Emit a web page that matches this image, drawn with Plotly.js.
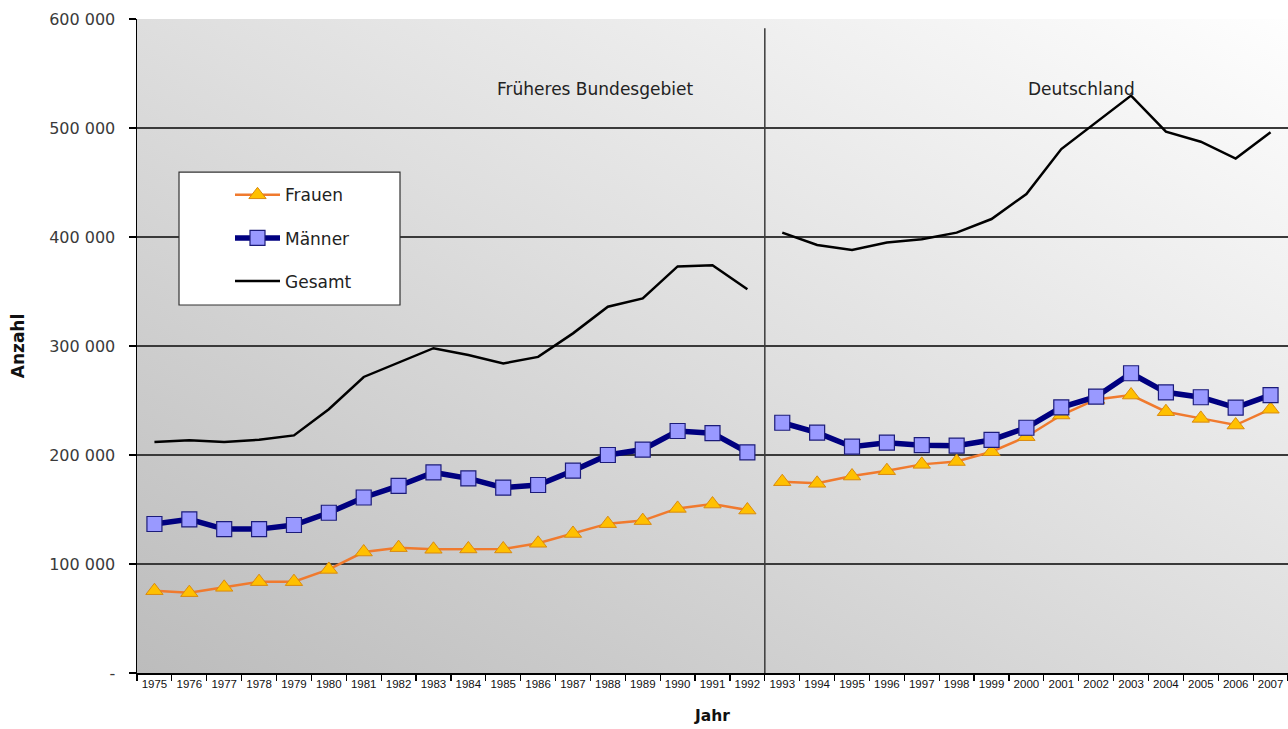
<!DOCTYPE html>
<html>
<head>
<meta charset="utf-8">
<script src="https://cdn.plot.ly/plotly-3.0.1.min.js"></script>
<style>
  html, body { margin: 0; padding: 0; background: #ffffff; }
  #chart { width: 1288px; height: 729px; }
</style>
</head>
<body>
<div id="chart"></div>
<script>
// ---- data ----
const years = ['1975','1976','1977','1978','1979','1980','1981','1982','1983','1984','1985','1986','1987','1988','1989','1990','1991','1992',
               '1993','1994','1995','1996','1997','1998','1999','2000','2001','2002','2003','2004','2005','2006','2007'];
const frauen = [75500, 73700, 78600, 83800, 83800, 95000, 111000, 115000, 113500, 113800, 113800, 119000, 128000, 137000, 139800, 151000, 155000, 149500,
                175500, 174000, 180700, 185600, 191400, 194000, 203000, 216800, 236700, 251000, 255000, 239700, 233600, 227500, 242000];
const maenner = [136700, 141000, 132000, 132000, 135800, 147000, 161000, 171600, 184000, 178600, 170000, 172500, 185600, 200000, 205000, 222000, 220000, 202500,
                 229600, 220500, 207600, 211300, 209000, 208600, 213800, 225000, 243700, 253500, 275000, 257500, 253000, 243400, 255000];
const gesamt = [212000, 213500, 212000, 214000, 218000, 242000, 271600, 285000, 298000, 291700, 284000, 290000, 311600, 336000, 343700, 373000, 374000, 352000,
                404000, 392700, 388000, 395000, 398000, 404000, 416500, 439400, 480700, 504900, 529700, 496600, 487400, 472000, 496000];
const seriesNames = ['Frauen', 'Männer', 'Gesamt'];
const periodLabels = ['Früheres Bundesgebiet', 'Deutschland'];
const splitYear = '1993';   // first year of "Deutschland"
const yTickVals = [0, 100000, 200000, 300000, 400000, 500000, 600000];
const yTickText = ['-', '100 000', '200 000', '300 000', '400 000', '500 000', '600 000'];

// ---- styles ----
const styles = {
  'Frauen': { mode: 'lines+markers',
              line: { color: '#f07a2e', width: 2.5 },
              marker: { symbol: 'triangle-up', size: 15, color: '#ffc000', line: { color: '#d98a10', width: 1 } } },
  'Männer': { mode: 'lines+markers',
              line: { color: '#000080', width: 5.5 },
              marker: { symbol: 'square', size: 15, color: '#9999ff', line: { color: '#1c1c7a', width: 1.2 } } },
  'Gesamt': { mode: 'lines',
              line: { color: '#000000', width: 2.5 } }
};
const values = { 'Frauen': frauen, 'Männer': maenner, 'Gesamt': gesamt };
const split = years.indexOf(splitYear);

const traces = [];
seriesNames.forEach(function (name) {
  const v = values[name];
  const parts = [[0, split], [split, years.length]];
  parts.forEach(function (p, i) {
    const t = Object.assign({
      type: 'scatter',
      x: years.slice(p[0], p[1]),
      y: v.slice(p[0], p[1]),
      name: name,
      legendgroup: name,
      showlegend: i === 0,
      hoverinfo: 'x+y+name'
    }, JSON.parse(JSON.stringify(styles[name])));
    traces.push(t);
  });
});

// background gradient for the plot area
const svgBg = "<svg xmlns='http://www.w3.org/2000/svg' width='1151' height='654' preserveAspectRatio='none'>" +
  "<defs><linearGradient id='g' x1='0' y1='1' x2='1' y2='0'>" +
  "<stop offset='0' stop-color='#bcbcbc'/><stop offset='0.5' stop-color='#dedede'/><stop offset='1' stop-color='#fefefe'/>" +
  "</linearGradient></defs><rect x='0' y='0' width='1151' height='654' fill='url(#g)'/></svg>";
const bgSrc = 'data:image/svg+xml;charset=utf-8,' + encodeURIComponent(svgBg);

const layout = {
  width: 1288, height: 729,
  margin: { l: 137, r: 0, t: 19, b: 56, pad: 0 },
  paper_bgcolor: '#ffffff',
  plot_bgcolor: 'rgba(0,0,0,0)',
  showlegend: true,
  font: { family: 'DejaVu Sans, Liberation Sans, Arial, sans-serif', color: '#222222' },
  xaxis: {
    type: 'category',
    categoryorder: 'array', categoryarray: years,
    range: [-0.5, years.length - 0.5],
    showgrid: false,
    showline: true, linecolor: '#000000', linewidth: 1.5,
    ticks: 'outside', ticklen: 6, tickwidth: 1.2, tickcolor: '#000000',
    tickson: 'boundaries',
    tickangle: 0,
    tickfont: { family: 'Liberation Sans, Arial, sans-serif', size: 11.5, color: '#111111' },
    title: { text: 'Jahr', font: { family: 'DejaVu Sans, Arial, sans-serif', size: 15.5, color: '#111111', weight: 'bold' }, standoff: 21 },
    zeroline: false, fixedrange: true
  },
  yaxis: {
    range: [0, 600000],
    tickvals: yTickVals, ticktext: yTickText,
    showgrid: true, gridcolor: '#3a3a3a', gridwidth: 1.2,
    showline: true, linecolor: '#000000', linewidth: 1.5,
    ticks: 'outside', ticklen: 7, tickwidth: 1.2, tickcolor: '#000000',
    ticklabelstandoff: 10,
    tickfont: { family: 'DejaVu Sans, Arial, sans-serif', size: 16, color: '#3a3a3a' },
    title: { text: 'Anzahl', font: { family: 'DejaVu Sans, Arial, sans-serif', size: 17, color: '#111111', weight: 'bold' }, standoff: 20 },
    zeroline: false, fixedrange: true
  },
  legend: {
    x: 0.0808, xanchor: 'left',
    y: 0.758, yanchor: 'top',
    bgcolor: 'rgba(0,0,0,0)', borderwidth: 0,
    traceorder: 'grouped', tracegroupgap: 18,
    itemwidth: 45,
    font: { family: 'DejaVu Sans, Arial, sans-serif', size: 17, color: '#222222' }
  },
  images: [{
    source: bgSrc, xref: 'paper', yref: 'paper',
    x: 0, y: 1, sizex: 1, sizey: 1, xanchor: 'left', yanchor: 'top',
    sizing: 'stretch', layer: 'below'
  }],
  shapes: [
    { type: 'line', xref: 'x', yref: 'paper', x0: split - 0.5, x1: split - 0.5, y0: 0, y1: 0.986,
      line: { color: '#3a3a3a', width: 1.5 }, layer: 'above' },
    { type: 'rect', xref: 'paper', yref: 'paper', x0: 0.0365, x1: 0.2285, y0: 0.5627, y1: 0.766,
      fillcolor: '#ffffff', line: { color: '#333333', width: 1.2 }, layer: 'above' }
  ],
  annotations: [
    { text: periodLabels[0], xref: 'paper', yref: 'paper', x: 0.398, y: 0.893, showarrow: false,
      xanchor: 'center', yanchor: 'middle', font: { family: 'DejaVu Sans, Arial, sans-serif', size: 17, color: '#222222' } },
    { text: periodLabels[1], xref: 'paper', yref: 'paper', x: 0.821, y: 0.893, showarrow: false,
      xanchor: 'center', yanchor: 'middle', font: { family: 'DejaVu Sans, Arial, sans-serif', size: 17, color: '#222222' } }
  ]
};

Plotly.newPlot('chart', traces, layout, { displayModeBar: false, staticPlot: true });
</script>
</body>
</html>
